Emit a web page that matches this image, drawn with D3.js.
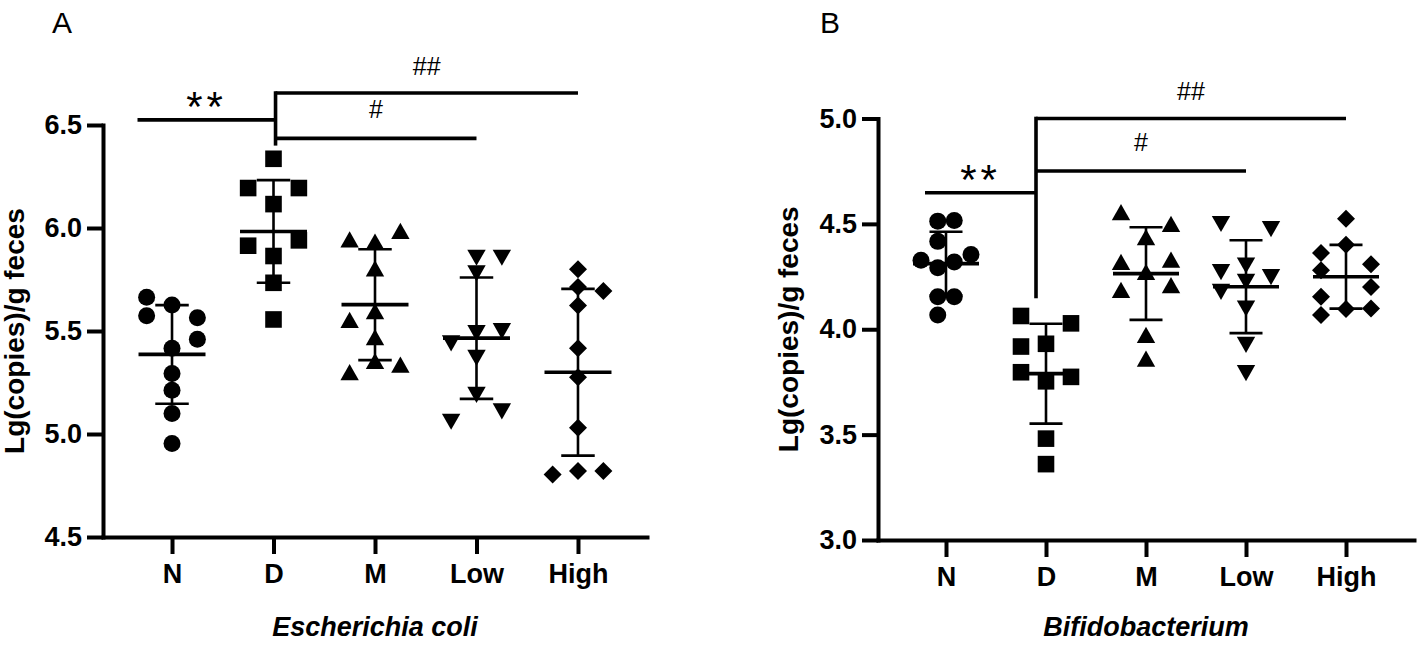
<!DOCTYPE html>
<html><head><meta charset="utf-8">
<script src="https://cdn.jsdelivr.net/npm/d3@7/dist/d3.min.js"></script>
<style>body{margin:0;background:#fff}svg{display:block}</style>
</head><body>
<script>
const groups = ["N", "D", "M", "Low", "High"];
const yTicksA = [4.5, 5.0, 5.5, 6.0, 6.5];
const yTicksB = [3.0, 3.5, 4.0, 4.5, 5.0];

// Panel A: Escherichia coli, Lg(copies)/g feces
const ecoliN    = [5.664, 5.574, 5.626, 5.564, 5.460, 5.416, 5.294, 5.212, 5.100, 4.954];
const ecoliD    = [6.336, 6.194, 6.194, 6.116, 5.914, 5.940, 5.864, 5.734, 5.556];
const ecoliM    = [5.944, 5.934, 5.986, 5.804, 5.554, 5.596, 5.470, 5.354, 5.300, 5.336];
const ecoliLow  = [5.856, 5.856, 5.780, 5.490, 5.500, 5.440, 5.370, 5.190, 5.110, 5.060];
const ecoliHigh = [5.800, 5.714, 5.694, 5.624, 5.416, 5.276, 5.030, 4.804, 4.820, 4.820];
// dodge slot of each point (scatter column)
const ecoliNSlot    = [-1, -1, 0, 1, 1, 0, 0, 0, 0, 0];
const ecoliDSlot    = [0, -1, 1, 0, -1, 1, 0, 0, 0];
const ecoliMSlot    = [-1, 0, 1, 0, -1, 0, 0, 0, -1, 1];
const ecoliLowSlot  = [0, 1, 0, 0, 1, -1, 0, 0, 1, -1];
const ecoliHighSlot = [0, 0, 1, 0, 0, 0, 0, -1, 0, 1];

// Panel B: Bifidobacterium
const bifidoN    = [4.513, 4.516, 4.417, 4.327, 4.292, 4.319, 4.355, 4.154, 4.154, 4.068];
const bifidoD    = [4.063, 4.028, 3.918, 3.931, 3.796, 3.774, 3.753, 3.481, 3.360];
const bifidoM    = [4.555, 4.500, 4.437, 4.319, 4.330, 4.272, 4.186, 4.209, 3.973, 3.860];
const bifidoLow  = [4.500, 4.476, 4.303, 4.272, 4.248, 4.225, 4.178, 4.099, 3.926, 3.792];
const bifidoHigh = [4.524, 4.401, 4.362, 4.308, 4.280, 4.201, 4.154, 4.068, 4.096, 4.099];
const bifidoNSlot    = [-0.33, 0.33, -0.33, -1, -0.33, 0.33, 1, -0.33, 0.33, -0.33];
const bifidoDSlot    = [-1, 1, -1, 0, -1, 1, 0, 0, 0];
const bifidoMSlot    = [-1, 1, 0, -1, 1, 0, -1, 1, 0, 0];
const bifidoLowSlot  = [-1, 1, 0, -1, 1, 0, -1, 0, 0, 0];
const bifidoHighSlot = [0, 0, -1, 1, -1, 1, -1, -1, 0, 1];

// significance brackets: [N–D line, D–Low line, D–High line, stem bottom]
const ecoliBracket  = [6.525, 6.435, 6.655, 6.400];
const bifidoBracket = [4.648, 4.751, 5.000, 4.147];
const sigLabels = ["**", "#", "##"];

const FONT = "'Liberation Sans', Arial, Helvetica, sans-serif";
const W = 1418, H = 648;
const svg = d3.select("body").append("svg").attr("width", W).attr("height", H)
  .style("background", "#fff");

const shapes = {
  circle: d3.symbol(d3.symbolCircle, Math.PI * 8.5 * 8.5)(),
  square: "M-8.3,-8.3h16.6v16.6h-16.6Z",
  up: "M0,-8.2L9.2,8L-9.2,8Z",
  down: "M-9.2,-8L9.2,-8L0,8.2Z",
  diamond: "M0,-9L9,0L0,9L-9,0Z"
};
const groupShapes = ["circle", "square", "up", "down", "diamond"];

function drawPanel(cfg) {
  const g = svg.append("g");
  const x = d3.scalePoint().domain(groups).range(cfg.xRange).padding(0.68);
  const y = d3.scaleLinear().domain(cfg.yDomain).range(cfg.yRange);
  const step = x.step();

  // axes
  const ya = g.append("g").attr("transform", `translate(${cfg.xRange[0]},0)`)
    .call(d3.axisLeft(y).tickValues(cfg.yTicks).tickFormat(d3.format(".1f"))
      .tickSize(16).tickSizeOuter(0).tickPadding(5));
  const xa = g.append("g").attr("transform", `translate(0,${cfg.yRange[0]})`)
    .call(d3.axisBottom(x).tickSize(17).tickSizeOuter(0).tickPadding(10));
  [ya, xa].forEach(a => {
    a.attr("font-family", FONT).attr("font-size", 27).attr("font-weight", "bold");
    a.select(".domain").attr("stroke", "#000").attr("stroke-width", 4).attr("stroke-linecap", "square");
    a.selectAll(".tick line").attr("stroke", "#000").attr("stroke-width", 4);
    a.selectAll(".tick text").attr("fill", "#000");
  });

  // points + mean/SD
  cfg.series.forEach((vals, i) => {
    const cx = x(groups[i]);
    const slots = cfg.slots[i];
    g.append("g").selectAll("path").data(vals).join("path")
      .attr("d", shapes[groupShapes[i]])
      .attr("transform", (d, j) => `translate(${cx + slots[j] * step * 0.25},${y(d)})`)
      .attr("fill", "#000");
    const m = d3.mean(vals), sd = d3.deviation(vals);
    const eg = g.append("g").attr("stroke", "#000");
    eg.append("line").attr("x1", cx).attr("x2", cx).attr("y1", y(m + sd)).attr("y2", y(m - sd)).attr("stroke-width", 2.6);
    [m + sd, m - sd].forEach(v => eg.append("line").attr("x1", cx - step * 0.165).attr("x2", cx + step * 0.165)
      .attr("y1", y(v)).attr("y2", y(v)).attr("stroke-width", 2.6));
    eg.append("line").attr("x1", cx - step * 0.33).attr("x2", cx + step * 0.33)
      .attr("y1", y(m)).attr("y2", y(m)).attr("stroke-width", 3.6);
  });

  // significance brackets
  const b = cfg.bracket;
  const stemX = x("D") + cfg.stemShift * step;
  const bg = g.append("g").attr("stroke", "#000").attr("stroke-width", 3.6).attr("fill", "none");
  const nStart = x("N") + cfg.nStart * step;
  bg.append("line").attr("x1", nStart).attr("x2", stemX).attr("y1", y(b[0])).attr("y2", y(b[0]));
  bg.append("line").attr("x1", stemX).attr("x2", stemX).attr("y1", y(b[2]) - 1.8).attr("y2", y(b[3]));
  bg.append("line").attr("x1", stemX).attr("x2", x("Low")).attr("y1", y(b[1])).attr("y2", y(b[1]));
  bg.append("line").attr("x1", stemX).attr("x2", x("High")).attr("y1", y(b[2])).attr("y2", y(b[2]));

  g.append("text").text(sigLabels[0]).attr("x", (nStart + stemX) / 2).attr("y", y(b[0]) + 1)
    .attr("text-anchor", "middle").attr("font-family", FONT).attr("font-size", 42)
    .attr("letter-spacing", 4).attr("fill", "#000");
  g.append("text").text(sigLabels[1]).attr("x", (stemX + x("Low")) / 2).attr("y", y(b[1]) - 20)
    .attr("text-anchor", "middle").attr("font-family", FONT).attr("font-size", 25).attr("fill", "#000");
  g.append("text").text(sigLabels[2]).attr("x", (stemX + x("High")) / 2).attr("y", y(b[2]) - 18.5)
    .attr("text-anchor", "middle").attr("font-family", FONT).attr("font-size", 25).attr("fill", "#000");

  // titles
  g.append("text").text(cfg.title).attr("x", x("M")).attr("y", 636)
    .attr("text-anchor", "middle").attr("font-family", FONT).attr("font-size", 27)
    .attr("font-weight", "bold").attr("font-style", "italic").attr("fill", "#000");
  const midY = (cfg.yRange[0] + cfg.yRange[1]) / 2;
  g.append("text").text("Lg(copies)/g feces")
    .attr("transform", `translate(${cfg.yLabelX},${midY}) rotate(-90)`)
    .attr("text-anchor", "middle").attr("font-family", FONT).attr("font-size", 28)
    .attr("font-weight", "bold").attr("fill", "#000");
  g.append("text").text(cfg.letter).attr("x", cfg.letterX).attr("y", 33)
    .attr("font-family", FONT).attr("font-size", 30).attr("fill", "#000");
}

drawPanel({
  xRange: [103, 647], yRange: [537, 125], yDomain: [4.5, 6.5], yTicks: yTicksA,
  series: [ecoliN, ecoliD, ecoliM, ecoliLow, ecoliHigh],
  slots: [ecoliNSlot, ecoliDSlot, ecoliMSlot, ecoliLowSlot, ecoliHighSlot],
  bracket: ecoliBracket, stemShift: 0.02, nStart: -0.34,
  title: "Escherichia coli", yLabelX: 24, letter: "A", letterX: 52
});
drawPanel({
  xRange: [878, 1414], yRange: [540, 118.5], yDomain: [3.0, 5.0], yTicks: yTicksB,
  series: [bifidoN, bifidoD, bifidoM, bifidoLow, bifidoHigh],
  slots: [bifidoNSlot, bifidoDSlot, bifidoMSlot, bifidoLowSlot, bifidoHighSlot],
  bracket: bifidoBracket, stemShift: -0.1, nStart: -0.21,
  title: "Bifidobacterium", yLabelX: 798, letter: "B", letterX: 820
});
</script>
</body></html>
